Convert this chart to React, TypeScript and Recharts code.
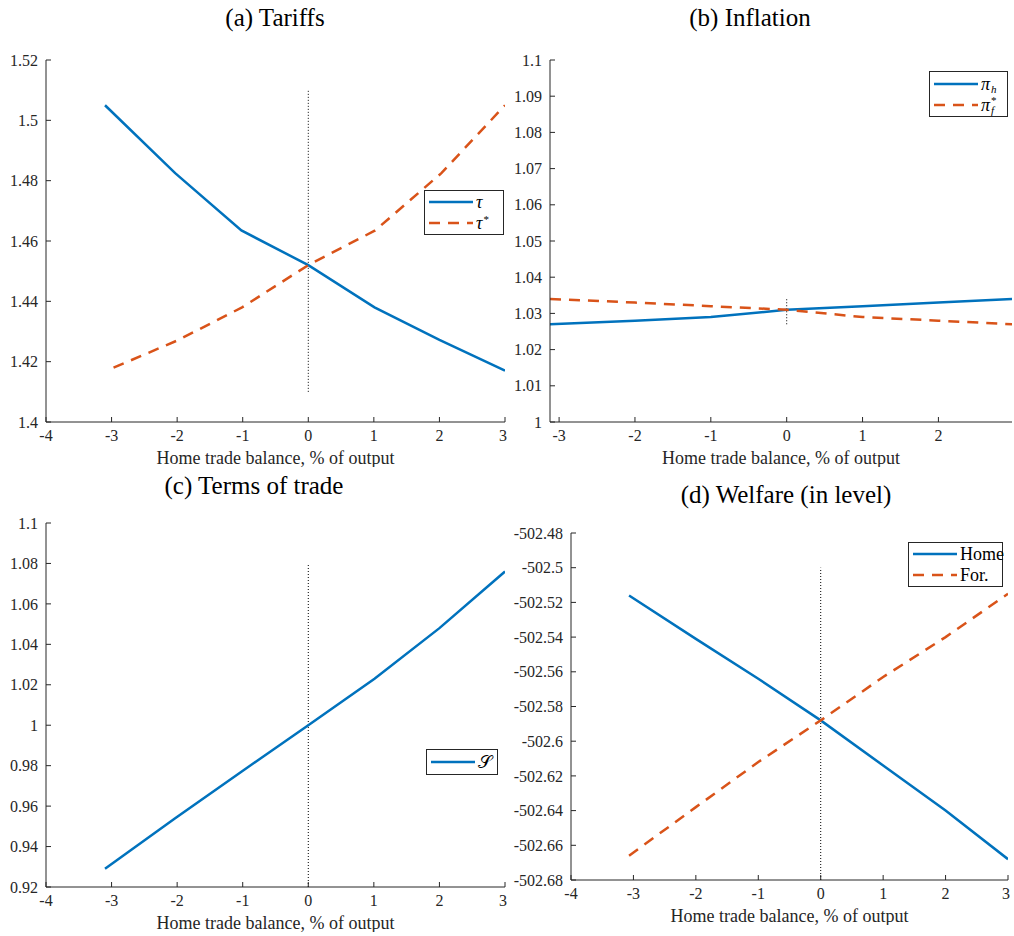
import React from "react";
import { LineChart, Line, XAxis, YAxis, ReferenceLine, Legend } from "recharts";

const BLUE = "#0072BD";
const ORANGE = "#D95319";
const INK = "#262626";
const SERIF = "'Liberation Serif', 'Times New Roman', serif";
const DASH = "11 8";
const X_LABEL = "Home trade balance, % of output";

// x ticks
const xTicksWide = [-4, -3, -2, -1, 0, 1, 2, 3];
const xTicksInfl = [-3, -2, -1, 0, 1, 2];

// (a) Tariffs
const tauX = [-3.1, -2.03, -1.02, 0, 1.01, 2.0, 3.0];
const tauHome = [1.505, 1.4825, 1.4635, 1.452, 1.438, 1.4272, 1.417];
const tauStarX = [-2.97, -2.0, -1.01, 0, 1.02, 2.03, 3.0];
const tauFor = [1.418, 1.427, 1.438, 1.452, 1.4635, 1.4825, 1.505];
const yTicksA = [1.4, 1.42, 1.44, 1.46, 1.48, 1.5, 1.52];

// (b) Inflation
const piX = [-3.12, -2, -1, 0, 1, 2, 2.97];
const piHome = [1.027, 1.028, 1.029, 1.031, 1.032, 1.033, 1.034];
const piFor = [1.034, 1.033, 1.032, 1.031, 1.029, 1.028, 1.027];
const yTicksB = [1, 1.01, 1.02, 1.03, 1.04, 1.05, 1.06, 1.07, 1.08, 1.09, 1.1];

// (c) Terms of trade
const sX = [-3.1, -2.03, -1.02, 0, 1.01, 2.0, 3.0];
const sVals = [0.929, 0.954, 0.977, 1.0, 1.023, 1.048, 1.076];
const yTicksC = [0.92, 0.94, 0.96, 0.98, 1, 1.02, 1.04, 1.06, 1.08, 1.1];

// (d) Welfare
const welfX = [-3.07, -2, -1, 0, 1, 2, 3.0];
const welfHome = [-502.516, -502.541, -502.564, -502.588, -502.614, -502.64, -502.668];
const welfFor = [-502.666, -502.638, -502.612, -502.588, -502.563, -502.54, -502.515];
const yTicksD = [-502.68, -502.66, -502.64, -502.62, -502.6, -502.58, -502.56, -502.54, -502.52, -502.5, -502.48];

type Pt = { x: number; y: number };
const zip = (xs: number[], ys: number[]): Pt[] => xs.map((x, i) => ({ x, y: ys[i] }));

type Series = { key: string; color: string; dashed?: boolean; label: React.ReactNode; data: Pt[] };

const fmt = (v: number) => String(Number(v.toFixed(2)));

function LegendBox({ items, width, height }: { items: Series[]; width: number; height: number }) {
  return (
    <div
      style={{
        boxSizing: "border-box",
        width,
        height,
        border: `1px solid ${INK}`,
        background: "#fff",
        display: "flex",
        flexDirection: "column",
        justifyContent: "space-around",
        padding: "1px 4px",
        fontFamily: SERIF,
        fontSize: 18,
        color: "#000",
      }}
    >
      {items.map((s) => (
        <div key={s.key} style={{ display: "flex", alignItems: "center", height: 19 }}>
          <svg width={44} height={8} style={{ flex: "none" }}>
            <line x1={0} y1={4} x2={44} y2={4} stroke={s.color} strokeWidth={2.5} strokeDasharray={s.dashed ? DASH : undefined} />
          </svg>
          <span style={{ marginLeft: 3, whiteSpace: "nowrap", lineHeight: "18px", display: "inline-flex", alignItems: "center" }}>
            {s.label}
          </span>
        </div>
      ))}
    </div>
  );
}

// symbol with optional superscript / subscript stacked on its right
function Sym({ base, sup, sub }: { base: string; sup?: string; sub?: string }) {
  return (
    <span style={{ display: "inline-flex", alignItems: "center" }}>
      <i>{base}</i>
      <span
        style={{
          display: "inline-flex",
          flexDirection: "column",
          fontSize: 11,
          lineHeight: "10px",
          marginLeft: 1,
          paddingTop: sup ? 0 : 10,
          paddingBottom: sub ? 0 : 8,
        }}
      >
        {sup && <span style={{ height: 10 }}>{sup}</span>}
        {sub && <i style={{ height: 10 }}>{sub}</i>}
      </span>
    </span>
  );
}

interface PanelProps {
  left: number;
  top: number;
  width: number;
  height: number;
  yAxisWidth: number;
  xDomain: [number, number];
  xTicks: number[];
  yDomain: [number, number];
  yTicks: number[];
  zeroLine: [number, number];
  series: Series[];
  legend: { left: number; top: number; width: number; height: number };
}

function Panel(p: PanelProps) {
  const tickStyle = { fill: INK, fontSize: 16, fontFamily: SERIF };
  return (
    <div style={{ position: "absolute", left: p.left, top: p.top }}>
      <LineChart
        width={p.width}
        height={p.height}
        margin={{ top: 60, right: 2, left: 0, bottom: 0 }}
        style={{ overflow: "visible" }}
      >
        <XAxis
          dataKey="x"
          type="number"
          domain={p.xDomain}
          ticks={p.xTicks}
          allowDataOverflow
          height={45}
          stroke={INK}
          tickSize={-5}
          tickMargin={13}
          tick={tickStyle}
          label={{ value: X_LABEL, position: "insideBottom", offset: 3, fill: INK, fontSize: 18, fontFamily: SERIF }}
        />
        <XAxis
          xAxisId="top"
          orientation="top"
          dataKey="x"
          type="number"
          domain={p.xDomain}
          ticks={p.xTicks}
          allowDataOverflow
          height={0}
          stroke={INK}
          tickSize={-5}
          tick={() => <g />}
        />
        <YAxis
          type="number"
          domain={p.yDomain}
          ticks={p.yTicks}
          allowDataOverflow
          width={p.yAxisWidth}
          stroke={INK}
          tickSize={-5}
          tickMargin={13}
          tick={tickStyle}
          tickFormatter={fmt}
          interval={0}
        />
        <YAxis
          yAxisId="r"
          orientation="right"
          type="number"
          domain={p.yDomain}
          ticks={p.yTicks}
          allowDataOverflow
          width={0}
          stroke={INK}
          tickSize={-5}
          tick={() => <g />}
          interval={0}
        />
        <ReferenceLine
          segment={[
            { x: 0, y: p.zeroLine[0] },
            { x: 0, y: p.zeroLine[1] },
          ]}
          stroke="#000"
          strokeWidth={1}
          strokeDasharray="1 2"
        />
        {p.series.map((s) => (
          <Line
            key={s.key}
            data={s.data}
            dataKey="y"
            type="linear"
            stroke={s.color}
            strokeWidth={2.5}
            strokeDasharray={s.dashed ? DASH : undefined}
            dot={false}
            activeDot={false}
            isAnimationActive={false}
          />
        ))}
        <Legend
          layout="horizontal"
          verticalAlign="middle"
          align="center"
          wrapperStyle={{ left: p.legend.left, top: p.legend.top, width: "auto", height: "auto" }}
          content={() => <LegendBox items={p.series} width={p.legend.width} height={p.legend.height} />}
        />
      </LineChart>
    </div>
  );
}

const titleStyle: React.CSSProperties = {
  position: "absolute",
  width: 400,
  textAlign: "center",
  fontFamily: SERIF,
  fontSize: 25,
  color: "#000",
  lineHeight: "28px",
};

export default function App() {
  const tariffs: Series[] = [
    { key: "tau", color: BLUE, label: <i>τ</i>, data: zip(tauX, tauHome) },
    { key: "tauStar", color: ORANGE, dashed: true, label: <Sym base="τ" sup="*" />, data: zip(tauStarX, tauFor) },
  ];
  const inflation: Series[] = [
    { key: "piH", color: BLUE, label: <Sym base="π" sub="h" />, data: zip(piX, piHome) },
    { key: "piF", color: ORANGE, dashed: true, label: <Sym base="π" sup="*" sub="f" />, data: zip(piX, piFor) },
  ];
  const tot: Series[] = [{ key: "S", color: BLUE, label: <span>𝒮</span>, data: zip(sX, sVals) }];
  const welfare: Series[] = [
    { key: "home", color: BLUE, label: "Home", data: zip(welfX, welfHome) },
    { key: "for", color: ORANGE, dashed: true, label: "For.", data: zip(welfX, welfFor) },
  ];

  return (
    <div style={{ position: "absolute", left: 0, top: 0, width: 1014, height: 936, overflow: "hidden", background: "#fff" }}>
      <div style={{ ...titleStyle, left: 75, top: 4 }}>(a) Tariffs</div>
      <div style={{ ...titleStyle, left: 550, top: 4 }}>(b) Inflation</div>
      <div style={{ ...titleStyle, left: 54, top: 472 }}>(c) Terms of trade</div>
      <div style={{ ...titleStyle, left: 586, top: 481 }}>(d) Welfare (in level)</div>

      <Panel
        left={0}
        top={0}
        width={507}
        height={467}
        yAxisWidth={46}
        xDomain={[-4, 3]}
        xTicks={xTicksWide}
        yDomain={[1.4, 1.52]}
        yTicks={yTicksA}
        zeroLine={[1.41, 1.51]}
        series={tariffs}
        legend={{ left: 424, top: 190, width: 80, height: 45 }}
      />
      <Panel
        left={506}
        top={0}
        width={508}
        height={467}
        yAxisWidth={44}
        xDomain={[-3.12, 2.97]}
        xTicks={xTicksInfl}
        yDomain={[1, 1.1]}
        yTicks={yTicksB}
        zeroLine={[1.027, 1.034]}
        series={inflation}
        legend={{ left: 423, top: 71, width: 79, height: 46 }}
      />
      <Panel
        left={0}
        top={463}
        width={507}
        height={469}
        yAxisWidth={46}
        xDomain={[-4, 3]}
        xTicks={xTicksWide}
        yDomain={[0.92, 1.1]}
        yTicks={yTicksC}
        zeroLine={[0.92, 1.08]}
        series={tot}
        legend={{ left: 426, top: 286, width: 72, height: 26 }}
      />
      <Panel
        left={507}
        top={473}
        width={503}
        height={452}
        yAxisWidth={64}
        xDomain={[-4, 3]}
        xTicks={xTicksWide}
        yDomain={[-502.68, -502.48]}
        yTicks={yTicksD}
        zeroLine={[-502.68, -502.5]}
        series={welfare}
        legend={{ left: 401, top: 69, width: 95, height: 45 }}
      />
    </div>
  );
}
